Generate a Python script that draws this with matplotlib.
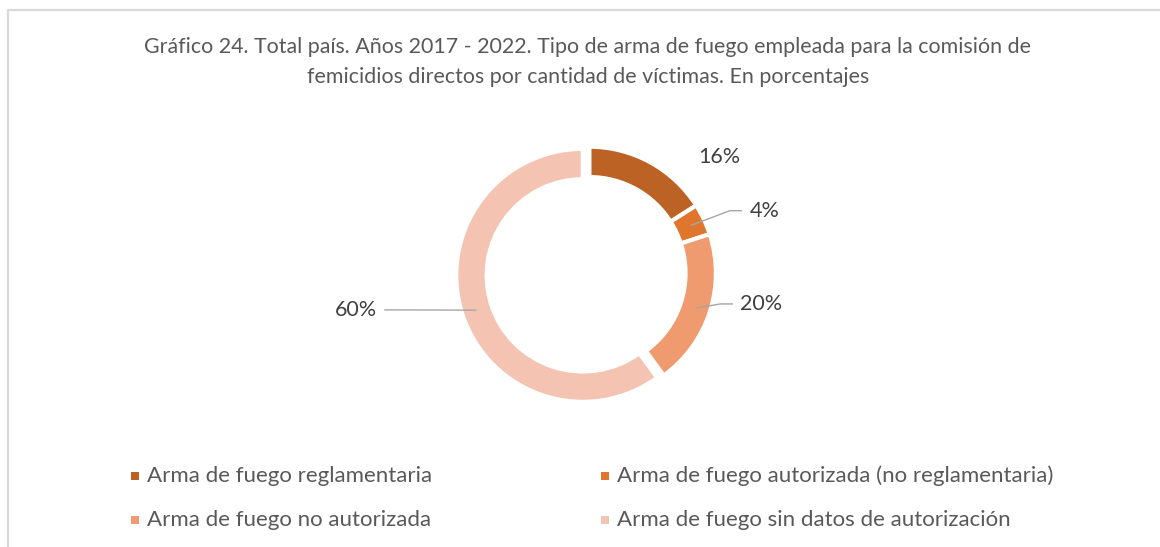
import numpy as np
import matplotlib.pyplot as plt
from matplotlib.patches import Rectangle

plt.rcParams['font.family'] = ['Lato', 'DejaVu Sans']

Categorias = ["Arma de fuego reglamentaria",
              "Arma de fuego autorizada (no reglamentaria)",
              "Arma de fuego no autorizada",
              "Arma de fuego sin datos de autorización"]
Porcentajes = [16, 4, 20, 60]
Etiquetas = ["16%", "4%", "20%", "60%"]
Colores = ["#BC6224", "#E0762E", "#F09A70", "#F5C3B2"]

TituloLinea1 = "Gráfico 24. Total país. Años 2017 - 2022. Tipo de arma de fuego empleada para la comisión de"
TituloLinea2 = "femicidios directos por cantidad de víctimas. En porcentajes"

W, H = 1160, 547
fig = plt.figure(figsize=(W / 100, H / 100), dpi=100)

# gray frame (top and left edges visible)
fig.add_artist(plt.Line2D([8 / W, 8 / W, 1.0], [0.0, 1 - 10 / H, 1 - 10 / H],
                          transform=fig.transFigure, color="#D9D9D9", lw=1.6))

fig.text(588 / W, 1 - 47 / H, TituloLinea1, ha="center", va="center", fontsize=15.4, color="#595959")
fig.text(588 / W, 1 - 77 / H, TituloLinea2, ha="center", va="center", fontsize=15.4, color="#595959")

# donut
cx, cy, R = 589.4, 273.2, 126.5
ax = fig.add_axes([(cx - R) / W, 1 - (cy + R) / H, 2 * R / W, 2 * R / H])

explode = [0, 0, 0, 0.055]
wedges, _ = ax.pie(Porcentajes, colors=Colores, startangle=90, counterclock=False,
                   explode=explode, radius=1,
                   wedgeprops=dict(width=0.24, edgecolor="white", linewidth=3))
ax.set_xlim(-1, 1)
ax.set_ylim(-1, 1)
ax.set_aspect("equal")
ax.axis("off")
for w in wedges:
    w.set_clip_on(False)

leader = "#A6A6A6"
lbl_color = "#404040"
fs_lbl = 15.5
mids = []
for w in wedges:
    mids.append(np.deg2rad((w.theta1 + w.theta2) / 2))

# 16%: no leader
ax.text(1.03, 0.92, Etiquetas[0], ha="center", va="center", fontsize=fs_lbl, color=lbl_color)

# 4%
a = mids[1]
x0, y0 = 0.89 * np.cos(a), 0.89 * np.sin(a)
ax.plot([x0, 1.11, 1.20], [y0, 0.494, 0.494], color=leader, lw=1, clip_on=False)
ax.text(1.27, 0.494, Etiquetas[1], ha="left", va="center", fontsize=fs_lbl, color=lbl_color)

# 20%
a = mids[2]
x0, y0 = 0.89 * np.cos(a), 0.89 * np.sin(a)
ax.plot([x0, 1.036, 1.13], [y0, -0.243, -0.243], color=leader, lw=1, clip_on=False)
ax.text(1.19, -0.243, Etiquetas[2], ha="left", va="center", fontsize=fs_lbl, color=lbl_color)

# 60%
a = mids[3]
ox, oy = wedges[3].center
x0, y0 = ox + 0.89 * np.cos(a), oy + 0.89 * np.sin(a)
ax.plot([x0, -1.616], [y0, -0.29], color=leader, lw=1, clip_on=False)
ax.text(-1.68, -0.29, Etiquetas[3], ha="right", va="center", fontsize=fs_lbl, color=lbl_color)

# legend
leg_x = [135, 605]
leg_y = [476, 520]
for i, (cat, col) in enumerate(zip(Categorias, Colores)):
    px = leg_x[i % 2]
    py = leg_y[i // 2]
    fig.add_artist(Rectangle(((px - 4) / W, 1 - (py + 4) / H), 8 / W, 8 / H,
                             transform=fig.transFigure, color=col, lw=0))
    fig.text((px + 12) / W, 1 - py / H, cat, ha="left", va="center", fontsize=16, color="#595959")

fig.savefig("out.png", dpi=100)
